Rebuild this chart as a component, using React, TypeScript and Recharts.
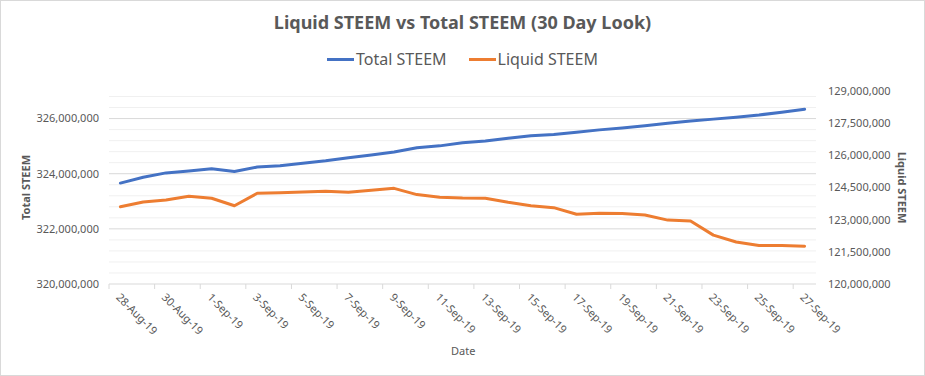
import React from 'react';
import { LineChart, Line, XAxis, YAxis, ReferenceLine, Legend } from 'recharts';

const dates = [
  '28-Aug-19', '29-Aug-19', '30-Aug-19', '31-Aug-19', '1-Sep-19', '2-Sep-19', '3-Sep-19', '4-Sep-19',
  '5-Sep-19', '6-Sep-19', '7-Sep-19', '8-Sep-19', '9-Sep-19', '10-Sep-19', '11-Sep-19', '12-Sep-19',
  '13-Sep-19', '14-Sep-19', '15-Sep-19', '16-Sep-19', '17-Sep-19', '18-Sep-19', '19-Sep-19', '20-Sep-19',
  '21-Sep-19', '22-Sep-19', '23-Sep-19', '24-Sep-19', '25-Sep-19', '26-Sep-19', '27-Sep-19',
];

const totalSteem = [
  323660000, 323870000, 324030000, 324100000, 324180000, 324080000, 324240000, 324290000,
  324380000, 324470000, 324580000, 324680000, 324790000, 324940000, 325010000, 325120000,
  325190000, 325290000, 325380000, 325420000, 325500000, 325590000, 325660000, 325740000,
  325830000, 325910000, 325980000, 326050000, 326130000, 326230000, 326340000,
];

const liquidSteem = [
  123600000, 123820000, 123920000, 124090000, 124000000, 123650000, 124230000, 124260000,
  124290000, 124330000, 124280000, 124370000, 124460000, 124170000, 124050000, 124010000,
  124000000, 123810000, 123650000, 123560000, 123250000, 123300000, 123290000, 123220000,
  122980000, 122940000, 122280000, 121960000, 121800000, 121800000, 121760000,
];

const leftTicks = [320000000, 322000000, 324000000, 326000000];
const rightTicks = [120000000, 121500000, 123000000, 124500000, 126000000, 127500000, 129000000];
const minorGrid = [
  320400000, 320800000, 321200000, 321600000, 322400000, 322800000, 323200000, 323600000,
  324400000, 324800000, 325200000, 325600000, 326400000, 326800000,
];
const majorGrid = [322000000, 324000000, 326000000];

const series = [
  { key: 'total', name: 'Total STEEM', color: '#4472C4', axis: 'left' },
  { key: 'liquid', name: 'Liquid STEEM', color: '#ED7D31', axis: 'right' },
];

const data = dates.map((d, i) => ({ date: d, total: totalSteem[i], liquid: liquidSteem[i] }));

const FONT = '"Noto Sans", "Open Sans", sans-serif';
const TEXT = '#595959';
const HALF_STEP = 11.4;

const fmt = (v: number) => v.toLocaleString('en-US');

const XTick = (props: any) => {
  const { x, y, payload } = props;
  return (
    <g>
      <line x1={x - HALF_STEP} x2={x - HALF_STEP} y1={y} y2={y + 5} stroke="#d9d9d9" strokeWidth={1} />
      <text
        transform={`translate(${x - 5},${y + 14}) rotate(45)`}
        textAnchor="start"
        fontSize={11}
        fontFamily={FONT}
        fill={TEXT}
      >
        {payload.value}
      </text>
    </g>
  );
};

const renderLegend = () => (
  <div
    style={{
      display: 'flex',
      justifyContent: 'center',
      alignItems: 'center',
      fontFamily: FONT,
      fontSize: 16,
      color: TEXT,
      gap: 22,
    }}
  >
    {series.map((s) => (
      <span key={s.key} style={{ display: 'flex', alignItems: 'center' }}>
        <span style={{ display: 'inline-block', width: 27, height: 3, background: s.color, marginRight: 2 }} />
        {s.name}
      </span>
    ))}
  </div>
);

export default function App() {
  return (
    <div style={{ position: 'absolute', left: 0, top: 0, width: 925, height: 376, background: '#fff' }}>
      <div
        style={{
          position: 'absolute',
          left: 0,
          top: 10,
          width: 925,
          textAlign: 'center',
          fontFamily: FONT,
          fontWeight: 'bold',
          fontSize: 18,
          lineHeight: '24px',
          color: TEXT,
          zIndex: 2,
        }}
      >
        Liquid STEEM vs Total STEEM (30 Day Look)
      </div>
      <LineChart width={925} height={376} data={data} margin={{ top: 91, right: 0, bottom: 0, left: 0 }}>
        {minorGrid.map((v) => (
          <ReferenceLine key={'mi' + v} y={v} yAxisId="left" stroke="#f0f0f0" strokeWidth={1} />
        ))}
        {majorGrid.map((v) => (
          <ReferenceLine key={'ma' + v} y={v} yAxisId="left" stroke="#d9d9d9" strokeWidth={1} />
        ))}
        <XAxis
          dataKey="date"
          interval={1}
          height={92}
          padding={{ left: HALF_STEP, right: HALF_STEP }}
          axisLine={{ stroke: '#d9d9d9' }}
          tickLine={false}
          tickSize={0}
          tickMargin={0}
          tick={<XTick />}
        />
        <YAxis
          yAxisId="left"
          width={109}
          domain={[320000000, 327000000]}
          ticks={leftTicks}
          tickFormatter={fmt}
          axisLine={false}
          tickLine={false}
          tickSize={0}
          tickMargin={10}
          tick={{ fontSize: 11, fontFamily: FONT, fill: TEXT }}
          allowDataOverflow
          label={{
            content: (p: any) => {
              const vb = p.viewBox;
              const cx = 25;
              const cy = vb.y + vb.height / 2;
              return (
                <text
                  x={cx}
                  y={cy}
                  transform={`rotate(-90,${cx},${cy})`}
                  textAnchor="middle"
                  dominantBaseline="central"
                  fontSize={11}
                  fontWeight="bold"
                  fontFamily={FONT}
                  fill={TEXT}
                >
                  Total STEEM
                </text>
              );
            },
          }}
        />
        <YAxis
          yAxisId="right"
          orientation="right"
          width={109}
          domain={[120000000, 129000000]}
          ticks={rightTicks}
          tickFormatter={fmt}
          axisLine={false}
          tickLine={false}
          tickSize={0}
          tickMargin={12}
          tick={{ fontSize: 11, fontFamily: FONT, fill: TEXT }}
          allowDataOverflow
          label={{
            content: (p: any) => {
              const vb = p.viewBox;
              const cx = 902;
              const cy = vb.y + vb.height / 2;
              return (
                <text
                  x={cx}
                  y={cy}
                  transform={`rotate(90,${cx},${cy})`}
                  textAnchor="middle"
                  dominantBaseline="central"
                  fontSize={11}
                  fontWeight="bold"
                  fontFamily={FONT}
                  fill={TEXT}
                >
                  Liquid STEEM
                </text>
              );
            },
          }}
        />
        <Legend
          content={renderLegend}
          verticalAlign="middle"
          align="center"
          layout="horizontal"
          wrapperStyle={{ top: 48, left: 0, width: 925, height: 24 }}
        />
        {series.map((s) => (
          <Line
            key={s.key}
            yAxisId={s.axis}
            dataKey={s.key}
            name={s.name}
            type="linear"
            stroke={s.color}
            strokeWidth={3}
            strokeLinecap="round"
            strokeLinejoin="round"
            dot={false}
            activeDot={false}
            isAnimationActive={false}
          />
        ))}
      </LineChart>
      <div
        style={{
          position: 'absolute',
          left: 451,
          top: 343,
          fontFamily: FONT,
          fontSize: 11,
          color: TEXT,
          pointerEvents: 'none',
        }}
      >
        Date
      </div>
      <div
        style={{
          position: 'absolute',
          left: 0,
          top: 0,
          width: 925,
          height: 376,
          boxSizing: 'border-box',
          border: '1px solid #d9d9d9',
          pointerEvents: 'none',
        }}
      />
    </div>
  );
}
